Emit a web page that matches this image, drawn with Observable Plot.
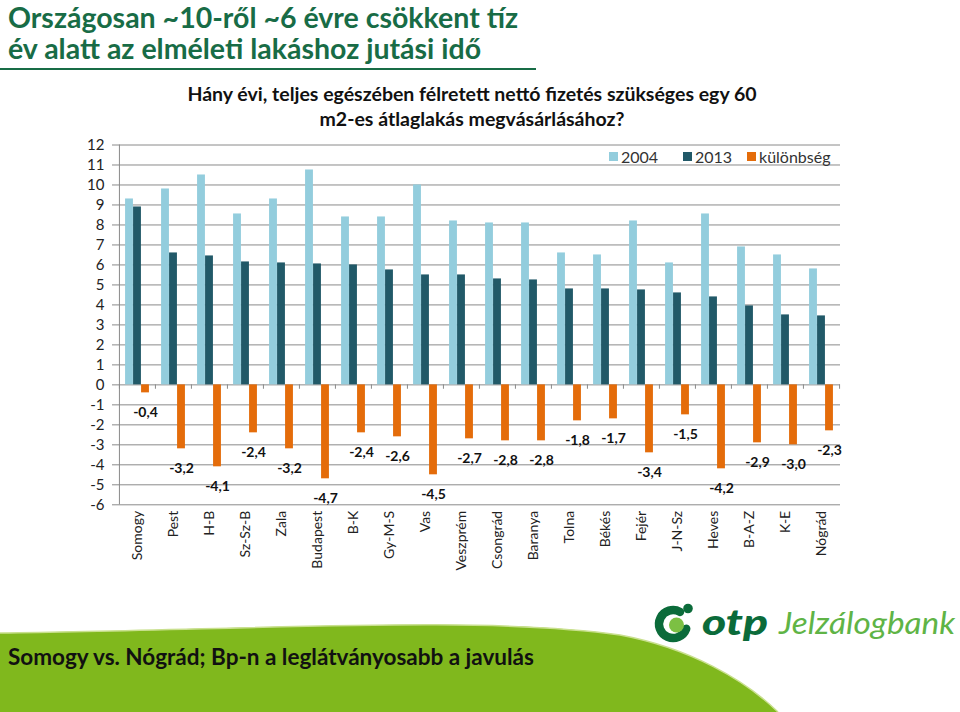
<!DOCTYPE html>
<html>
<head>
<meta charset="utf-8">
<script src="https://cdn.jsdelivr.net/npm/d3@7"></script>
<script src="https://cdn.jsdelivr.net/npm/@observablehq/plot@0.6"></script>
<style>
  body { margin: 0; background: #fff; }
  #root { position: relative; width: 960px; height: 712px; overflow: hidden; background: #fff; font-family: Lato, "Open Sans", sans-serif; }
  #title { position: absolute; left: 8px; top: 2px; font-weight: 700; font-size: 28.5px; line-height: 31px; color: #186c46; white-space: nowrap; }
  #rule { position: absolute; left: 0; top: 68px; width: 536px; height: 2px; background: #186c46; }
  #ctitle { position: absolute; left: 0; width: 944px; top: 81px; text-align: center; font-weight: 700; font-size: 19.5px; line-height: 25px; color: #111; white-space: nowrap; }
  #legend { position: absolute; left: 609px; top: 146px; font-size: 16px; color: #333; height: 20px; width: 240px; }
  #legend .it { position: absolute; top: 0; display: flex; align-items: center; height: 20px; }
  #legend .sw { width: 9px; height: 9px; margin-right: 3px; }
  #plot { position: absolute; left: 0; top: 130px; }
  #deco { position: absolute; left: 0; top: 0; }
  #foot { position: absolute; left: 8px; top: 643px; font-weight: 700; font-size: 22.5px; color: #111; white-space: nowrap; }
</style>
</head>
<body>
<div id="root">
  <svg id="deco" width="960" height="712">
    <path d="M0,633 C250,630 480,615 620,635 C690,648 745,680 778,712 L0,712 Z" fill="#80b81d"/>
    <path d="M0,633 C250,630 480,615 620,635 C690,648 745,680 778,712" fill="none" stroke="#c9e08f" stroke-width="1.5"/>
    <path d="M 680 611.9 A 14 14 0 1 0 686.2 628.8" fill="none" stroke="#0b6b3a" stroke-width="8.5" stroke-linecap="round"/>
    <circle cx="676.5" cy="625" r="7.5" fill="#7cc043"/>
    <circle cx="688" cy="608.5" r="4.8" fill="#0b6b3a"/>
    <text x="702" y="635" font-family="Lato, sans-serif" font-weight="900" font-style="italic" font-size="36" fill="#0b6b3a" textLength="66" lengthAdjust="spacingAndGlyphs">otp</text>
    <text x="779" y="634" font-family="Lato, sans-serif" font-style="italic" font-size="31" fill="#5fb446" textLength="176" lengthAdjust="spacingAndGlyphs">Jelzálogbank</text>
  </svg>
  <div id="title">Országosan ~10-ről ~6 évre csökkent tíz<br>év alatt az elméleti lakáshoz jutási idő</div>
  <div id="rule"></div>
  <div id="ctitle">Hány évi, teljes egészében félretett nettó fizetés szükséges egy 60<br>m2-es átlaglakás megvásárlásához?</div>
  <div id="plot"></div>
  <div id="legend"></div>
  <div id="foot">Somogy vs. Nógrád; Bp-n a leglátványosabb a javulás</div>
</div>
<script>
// ---- data ----
const regions = ["Somogy","Pest","H-B","Sz-Sz-B","Zala","Budapest","B-K","Gy-M-S","Vas","Veszprém","Csongrád","Baranya","Tolna","Békés","Fejér","J-N-Sz","Heves","B-A-Z","K-E","Nógrád"];
const values2004 = [9.3, 9.8, 10.5, 8.55, 9.3, 10.75, 8.4, 8.4, 10.0, 8.2, 8.1, 8.1, 6.6, 6.5, 8.2, 6.1, 8.55, 6.9, 6.5, 5.8];
const values2013 = [8.9, 6.6, 6.45, 6.15, 6.1, 6.05, 6.0, 5.75, 5.5, 5.5, 5.3, 5.25, 4.8, 4.8, 4.75, 4.6, 4.4, 3.95, 3.5, 3.45];
const diffs = [-0.4, -3.2, -4.1, -2.4, -3.2, -4.7, -2.4, -2.6, -4.5, -2.7, -2.8, -2.8, -1.8, -1.7, -3.4, -1.5, -4.2, -2.9, -3.0, -2.3];
const seriesNames = ["2004", "2013", "különbség"];
const seriesColors = ["#93cddd", "#215968", "#e46c0a"];
const legendOffsets = [0, 74, 138];
const yTicks = d3.range(-6, 13);

const d2004 = regions.map((r, i) => ({region: r, value: values2004[i]}));
const d2013 = regions.map((r, i) => ({region: r, value: values2013[i]}));
const dDiff = regions.map((r, i) => ({region: r, value: diffs[i]}));

const W = 960, H = 450, mL = 117, mR = 120;
const step = (W - mL - mR) / regions.length;
const bw = 8;
const ins = (step - bw) / 2;

const chart = Plot.plot({
  width: W, height: H,
  marginLeft: mL, marginRight: mR, marginTop: 14.5, marginBottom: 75.7,
  style: {fontFamily: "Lato, 'Open Sans', sans-serif", color: "#222", background: "transparent", overflow: "visible"},
  x: {domain: regions, padding: 0, axis: null, label: null},
  y: {domain: [-6, 12], axis: null, label: null},
  marks: [
    Plot.ruleY(yTicks, {stroke: "#8a8a8a", strokeWidth: 1}),
    Plot.ruleX([regions[0]], {dx: -step / 2, y1: -6, y2: 12, stroke: "#8a8a8a"}),
    Plot.ruleX(regions, {dx: -step / 2, y1: 0, y2: -0.22, stroke: "#8a8a8a"}),
    Plot.ruleX([regions[regions.length - 1]], {dx: step / 2, y1: 0, y2: -0.22, stroke: "#8a8a8a"}),
    Plot.axisY(yTicks, {tickSize: 5, tickPadding: 8, fontSize: 15, stroke: "#8a8a8a", tickFormat: d => String(d), fill: "#222", label: null}),
    Plot.axisX({anchor: "bottom", tickRotate: -90, tickSize: 0, tickPadding: 6, fontSize: 14, fill: "#222", label: null}),
    Plot.barY(d2004, {x: "region", y: "value", fill: seriesColors[0], dx: -bw, insetLeft: ins, insetRight: ins}),
    Plot.barY(d2013, {x: "region", y: "value", fill: seriesColors[1], dx: 0, insetLeft: ins, insetRight: ins}),
    Plot.barY(dDiff, {x: "region", y: "value", fill: seriesColors[2], dx: bw, insetLeft: ins, insetRight: ins}),
    Plot.text(dDiff, {x: "region", y: "value", text: d => d.value.toFixed(1).replace(".", ","), dx: bw, dy: 20, fontWeight: 700, fontSize: 14, fill: "#111", lineAnchor: "middle"})
  ]
});
document.getElementById("plot").appendChild(chart);

const legend = document.getElementById("legend");
seriesNames.forEach((n, i) => {
  const it = document.createElement("div");
  it.className = "it";
  it.style.left = legendOffsets[i] + "px";
  const sw = document.createElement("div");
  sw.className = "sw";
  sw.style.background = seriesColors[i];
  const t = document.createElement("span");
  t.textContent = n;
  it.appendChild(sw); it.appendChild(t);
  legend.appendChild(it);
});
</script>
</body>
</html>
